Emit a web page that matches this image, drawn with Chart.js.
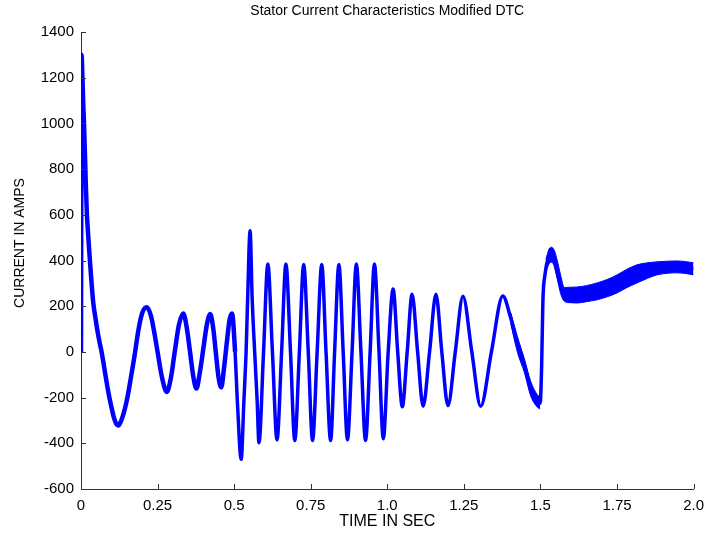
<!DOCTYPE html>
<html>
<head>
<meta charset="utf-8">
<title>Stator Current Characteristics Modified DTC</title>
<script src="https://cdn.jsdelivr.net/npm/chart.js@4.4.1/dist/chart.umd.min.js"></script>
<style>
  html, body { margin: 0; padding: 0; background: #fff; }
  #current-chart { display: block; }
</style>
</head>
<body>
<canvas id="current-chart" width="712" height="536"></canvas>
<script>
// stator current trace (time in s, current in A)
const timeSec = [
  0, 0.002, 0.004, 0.007, 0.010, 0.013, 0.016, 0.019, 0.023, 0.028,
  0.034, 0.040, 0.047, 0.054, 0.061, 0.068, 0.076, 0.084, 0.092, 0.100,
  0.108, 0.115, 0.122, 0.130, 0.138, 0.150, 0.162, 0.175, 0.188, 0.200,
  0.214, 0.228, 0.240, 0.250, 0.265, 0.280, 0.294, 0.306, 0.320, 0.334,
  0.346, 0.356, 0.367, 0.377, 0.388, 0.400, 0.411, 0.422, 0.432, 0.440,
  0.449, 0.458, 0.467, 0.476, 0.485, 0.493, 0.503, 0.511, 0.523, 0.532,
  0.539, 0.544, 0.552, 0.559, 0.567, 0.575, 0.581, 0.596, 0.610, 0.625,
  0.640, 0.655, 0.669, 0.684, 0.698, 0.713, 0.727, 0.742, 0.756, 0.771,
  0.786, 0.800, 0.815, 0.828, 0.842, 0.856, 0.870, 0.885, 0.899, 0.914,
  0.929, 0.944, 0.958, 0.973, 0.987, 1.003, 1.019, 1.034, 1.049, 1.065,
  1.081, 1.099, 1.117, 1.138, 1.159, 1.178, 1.198, 1.222, 1.247, 1.276,
  1.305, 1.340, 1.377, 1.403, 1.425, 1.448, 1.468, 1.490, 1.499, 1.504,
  1.508, 1.515, 1.525, 1.533, 1.542, 1.552, 1.565, 1.578, 1.600, 1.620,
  1.650, 1.685, 1.720, 1.750, 1.780, 1.815, 1.850, 1.880, 1.915, 1.945,
  1.975, 2.000
];
const statorCurrent = [
  0, 1300, 1230, 1100, 990, 860, 720, 610, 520, 420,
  310, 215, 150, 90, 40, -5, -70, -136, -195, -245,
  -290, -315, -322, -305, -275, -210, -120, -15, 100, 170,
  195, 160, 80, 0, -115, -175, -110, 0, 120, 168,
  100, 0, -110, -160, -90, 20, 120, 166, 100, 0,
  -110, -155, -70, 40, 140, 168, 0, -230, -470, -210,
  0, 228, 530, 228, 0, -210, -398, 0, 385, 0,
  -385, 0, 385, 0, -388, 0, 383, 0, -388, 0,
  383, 0, -388, 0, 383, 0, -385, 0, 385, 0,
  -388, 0, 385, 0, -380, 0, 275, 0, -240, 0,
  252, 0, -238, 0, 252, 0, -235, 0, 243, 0,
  -238, 0, 245, 148, 32, -62, -160, -215, -225, -60,
  220, 340, 410, 425, 410, 360, 295, 252, 249, 249,
  255, 265, 280, 298, 320, 342, 356, 365, 370, 372,
  369, 363
];

// ripple envelope on the slow decline before the 1.5 s step
const declineTime  = [1.403, 1.425, 1.448, 1.468, 1.490, 1.499];
const declineUpper = [172, 66, -32, -128, -188, -198];
const declineLower = [124, -2, -92, -192, -242, -250];

// ripple envelope after the 1.5 s step
const stepTime  = [1.518, 1.528, 1.536, 1.545, 1.555, 1.566, 1.578, 1.600, 1.620, 1.650, 1.685, 1.720, 1.750, 1.780, 1.815, 1.850, 1.880, 1.915, 1.945, 1.975, 2.000];
const stepUpper = [405, 450, 458, 445, 400, 335, 282, 283, 284, 290, 302, 318, 337, 360, 381, 390, 394, 397, 398, 395, 390];
const stepLower = [350, 385, 392, 378, 320, 255, 222, 215, 214, 220, 228, 242, 258, 280, 302, 322, 337, 344, 346, 343, 337];

const xTickValues = [0, 0.25, 0.5, 0.75, 1.0, 1.25, 1.5, 1.75, 2.0];
const xTickLabels = ["0", "0.25", "0.5", "0.75", "1.0", "1.25", "1.5", "1.75", "2.0"];
const yTickValues = [-600, -400, -200, 0, 200, 400, 600, 800, 1000, 1200, 1400];
const yTickLabels = ["-600", "-400", "-200", "0", "200", "400", "600", "800", "1000", "1200", "1400"];

const chartTitle = "Stator Current Characteristics Modified DTC";
const xAxisTitle = "TIME IN SEC";
const yAxisTitle = "CURRENT IN AMPS";

const FONT = '"Liberation Sans", Arial, Helvetica, sans-serif';
const TRACE = "#0000ff";
const AXIS = "#333333";

const toPoints = (xs, ys) => xs.map((x, i) => ({ x, y: ys[i] }));

// inward tick marks and the text around the axes
const axisDecor = {
  id: "axisDecor",
  afterDraw(chart) {
    const { ctx, chartArea, scales } = chart;
    const { x, y } = scales;
    ctx.save();
    ctx.strokeStyle = AXIS;
    ctx.lineWidth = 1;
    ctx.beginPath();
    xTickValues.forEach((v) => {
      const px = Math.round(x.getPixelForValue(v)) + 0.5;
      ctx.moveTo(px, chartArea.bottom);
      ctx.lineTo(px, chartArea.bottom - 5);
    });
    yTickValues.forEach((v) => {
      const py = Math.round(y.getPixelForValue(v)) + 0.5;
      ctx.moveTo(chartArea.left, py);
      ctx.lineTo(chartArea.left + 5, py);
    });
    ctx.stroke();

    const midX = (chartArea.left + chartArea.right) / 2;
    ctx.fillStyle = "#000";
    ctx.textAlign = "center";
    ctx.textBaseline = "middle";
    ctx.font = `14px ${FONT}`;
    ctx.fillText(chartTitle, midX, 11);
    ctx.font = `16px ${FONT}`;
    ctx.fillText(xAxisTitle, midX, 522);
    ctx.font = `14px ${FONT}`;
    ctx.translate(20, 243);
    ctx.rotate(-Math.PI / 2);
    ctx.fillText(yAxisTitle, 0, 0);
    ctx.restore();
  },
};

const lineStyle = {
  borderColor: TRACE,
  pointRadius: 0,
  cubicInterpolationMode: "monotone",
};

const envelope = (xs, upper, lower) => [
  { ...lineStyle, data: toPoints(xs, upper), borderWidth: 1, fill: false },
  { ...lineStyle, data: toPoints(xs, lower), borderWidth: 1, fill: "-1", backgroundColor: TRACE },
];

new Chart(document.querySelector("#current-chart"), {
  type: "line",
  data: {
    datasets: [
      {
        ...lineStyle,
        data: toPoints(timeSec, statorCurrent),
        borderWidth: 3.5,
        fill: false,
        // the slow early swings carry a wider ripple than the fast ones
        segment: { borderWidth: (ctx) => (ctx.p0.parsed.x < 0.5 ? 4.5 : 3.5) },
      },
      ...envelope(declineTime, declineUpper, declineLower),
      ...envelope(stepTime, stepUpper, stepLower),
    ],
  },
  options: {
    responsive: false,
    devicePixelRatio: 1,
    animation: false,
    layout: { padding: { top: 32, right: 15, left: 0, bottom: 0 } },
    plugins: {
      legend: { display: false },
      tooltip: { enabled: false },
      title: { display: false },
    },
    scales: {
      x: {
        type: "linear",
        min: 0,
        max: 2,
        afterBuildTicks: (scale) => {
          scale.ticks = xTickValues.map((value) => ({ value }));
        },
        afterFit: (scale) => {
          scale.height = 47;
        },
        ticks: {
          autoSkip: false,
          maxRotation: 0,
          padding: 8,
          color: "#000",
          font: { family: FONT, size: 15 },
          callback: (value, index) => xTickLabels[index],
        },
        grid: { display: false, drawTicks: false },
        border: { display: true, color: AXIS, width: 1 },
      },
      y: {
        type: "linear",
        min: -600,
        max: 1400,
        afterBuildTicks: (scale) => {
          scale.ticks = yTickValues.map((value) => ({ value }));
        },
        afterFit: (scale) => {
          scale.width = 81;
        },
        ticks: {
          autoSkip: false,
          padding: 7,
          color: "#000",
          font: { family: FONT, size: 15 },
          callback: (value, index) => yTickLabels[index],
        },
        grid: { display: false, drawTicks: false },
        border: { display: true, color: AXIS, width: 1 },
      },
    },
  },
  plugins: [axisDecor],
});
</script>
</body>
</html>
